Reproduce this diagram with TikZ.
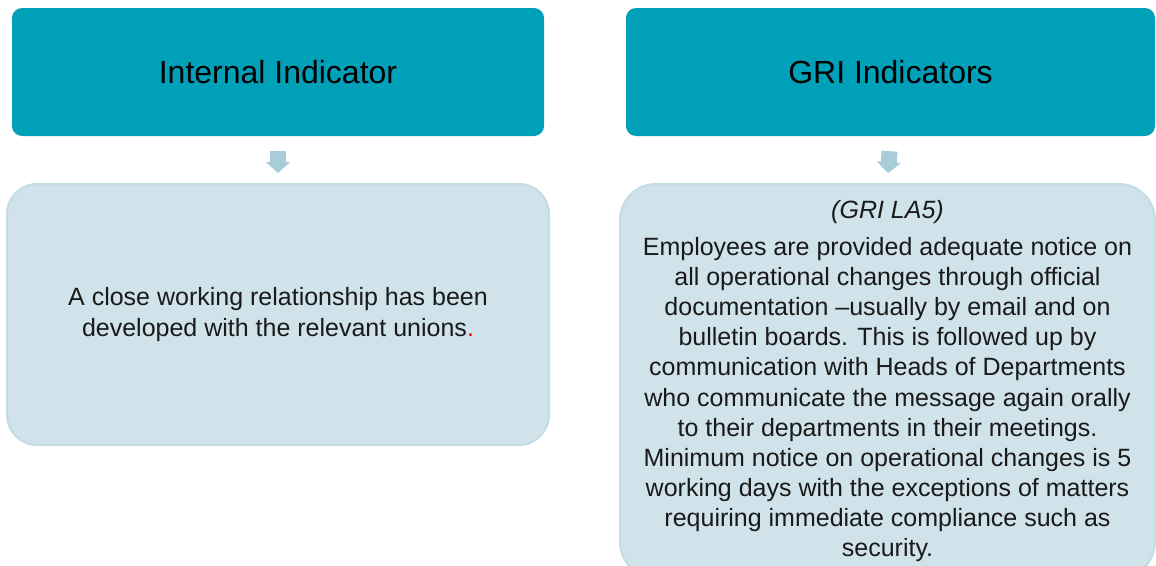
\documentclass[tikz,border=0pt]{standalone}
\usepackage{fontspec}
\setmainfont{Liberation Sans}
\usetikzlibrary{arrows.meta}
\definecolor{teal}{HTML}{00A0B8}
\definecolor{paleblue}{HTML}{D0E2EA}
\definecolor{paleedge}{HTML}{C6DCE4}
\definecolor{arrowblue}{HTML}{A9CDD8}
\definecolor{txt}{HTML}{1A1A1A}
\begin{document}
\begin{tikzpicture}[x=1pt,y=-1pt,
  headbox/.style={draw=none,fill=teal,rounded corners=10pt,inner sep=0pt,
    font=\fontsize{32}{38}\selectfont,text=black},
  bodybox/.style={draw=paleedge,line width=2pt,fill=paleblue,rounded corners=30pt,
    inner sep=0pt,align=center,font=\fontsize{25}{30.1}\selectfont,text=txt},
  flowarrow/.style={draw=arrowblue,line width=16pt,
    -{Triangle[width=24pt,length=11pt]},shorten <=15pt,shorten >=10pt}]
\useasboundingbox (0,0) rectangle (1156,565);
\clip (0,0) rectangle (1156,565);
\node[headbox,minimum width=532pt,minimum height=128pt] (t1) at (278,72) {Internal Indicator};
\node[headbox,minimum width=529pt,minimum height=128pt] (t2) at (890.5,72) {GRI Indicators};
\node[bodybox,minimum width=542pt,minimum height=261pt] (b1) at (278,314.5)
  {A close working relationship has been\\developed with the relevant unions\textcolor{red}{.}};
\node[bodybox,rounded corners=36pt,minimum width=535pt,minimum height=394pt] (b2) at (887.5,381)
  {\textit{(GRI LA5)}\\[7pt]
   Employees are provided adequate notice on\\
   all operational changes through official\\
   documentation --usually by email and on\\
   bulletin boards. This is followed up by\\
   communication with Heads of Departments\\
   who communicate the message again orally\\
   to their departments in their meetings.\\
   Minimum notice on operational changes is 5\\
   working days with the exceptions of matters\\
   requiring immediate compliance such as\\
   security.};
\draw[flowarrow] (t1.south) -- (b1.north);
\draw[flowarrow] (t2.south) -- (b2.north);
\end{tikzpicture}
\end{document}
